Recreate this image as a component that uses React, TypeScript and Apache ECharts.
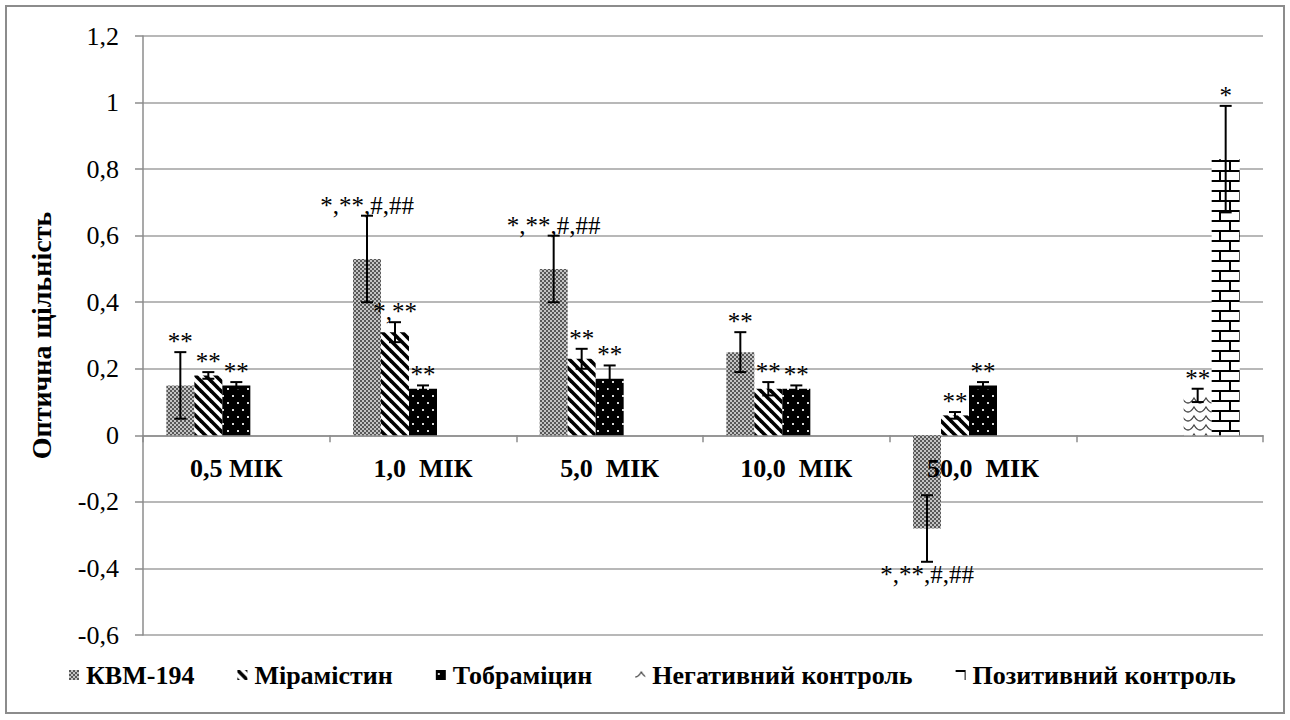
import React, { useEffect, useRef } from "react";
import * as echarts from "echarts";

const categories = ["0,5 МІК", "1,0  МІК", "5,0  МІК", "10,0  МІК", "50,0  МІК", ""];
const seriesNames = ["КВМ-194", "Мірамістин", "Тобраміцин", "Негативний контроль", "Позитивний контроль"];

const kvm = [0.15, 0.53, 0.5, 0.25, -0.28, null];
const kvmErr = [0.1, 0.13, 0.1, 0.06, 0.1, null];
const kvmMarks = ["**", "*,**,#,##", "*,**,#,##", "**", "*,**,#,##", ""];

const miram = [0.18, 0.31, 0.23, 0.14, 0.06, null];
const miramErr = [0.01, 0.03, 0.03, 0.02, 0.01, null];
const miramMarks = ["**", "*,**", "**", "**", "**", ""];

const tobra = [0.15, 0.14, 0.17, 0.14, 0.15, null];
const tobraErr = [0.01, 0.01, 0.04, 0.01, 0.01, null];
const tobraMarks = ["**", "**", "**", "**", "**", ""];

const negCtrl = [null, null, null, null, null, 0.12];
const negCtrlErr = [null, null, null, null, null, 0.02];
const negCtrlMarks = ["", "", "", "", "", "**"];

const posCtrl = [null, null, null, null, null, 0.83];
const posCtrlErr = [null, null, null, null, null, 0.16];
const posCtrlMarks = ["", "", "", "", "", "*"];

const allValues = [kvm, miram, tobra, negCtrl, posCtrl];
const allErrs = [kvmErr, miramErr, tobraErr, negCtrlErr, posCtrlErr];
const allMarks = [kvmMarks, miramMarks, tobraMarks, negCtrlMarks, posCtrlMarks];

const FONT = "Liberation Serif";

function makeTile(w: number, h: number, draw: (ctx: CanvasRenderingContext2D) => void) {
  const c = document.createElement("canvas");
  c.width = w;
  c.height = h;
  const ctx = c.getContext("2d") as CanvasRenderingContext2D;
  draw(ctx);
  return { image: c.toDataURL(), repeat: "repeat", imageWidth: w, imageHeight: h } as any;
}

function makePatterns() {
  const gray = makeTile(4, 4, (ctx) => {
    ctx.fillStyle = "#c4c4c4";
    ctx.fillRect(0, 0, 4, 4);
    ctx.fillStyle = "#585858";
    ctx.fillRect(0, 0, 2, 2);
    ctx.fillRect(2, 2, 2, 2);
  });
  const stripes = makeTile(10, 10, (ctx) => {
    ctx.fillStyle = "#ffffff";
    ctx.fillRect(0, 0, 10, 10);
    ctx.strokeStyle = "#000000";
    ctx.lineWidth = 3.6;
    for (let k = -2; k <= 2; k++) {
      ctx.beginPath();
      ctx.moveTo(k * 10 - 2, -2);
      ctx.lineTo(k * 10 + 12, 12);
      ctx.stroke();
    }
  });
  const dots = makeTile(10, 14, (ctx) => {
    ctx.fillStyle = "#000000";
    ctx.fillRect(0, 0, 10, 14);
    ctx.fillStyle = "#d8d8d8";
    ctx.fillRect(2, 3, 2, 2);
    ctx.fillRect(7, 10, 2, 2);
  });
  const waves = makeTile(12, 9, (ctx) => {
    ctx.fillStyle = "#ffffff";
    ctx.fillRect(0, 0, 12, 9);
    ctx.strokeStyle = "#444444";
    ctx.lineWidth = 1.3;
    ctx.beginPath();
    ctx.moveTo(0, 7);
    ctx.quadraticCurveTo(3, 7, 6, 2);
    ctx.quadraticCurveTo(9, 7, 12, 7);
    ctx.stroke();
  });
  const bricks = makeTile(20, 20, (ctx) => {
    ctx.fillStyle = "#ffffff";
    ctx.fillRect(0, 0, 20, 20);
    ctx.fillStyle = "#000000";
    ctx.fillRect(0, 0, 20, 2);
    ctx.fillRect(0, 10, 20, 2);
    ctx.fillRect(9, 0, 2, 10);
    ctx.fillRect(19, 10, 2, 10);
    ctx.fillRect(-1, 10, 2, 10);
  });
  return [gray, stripes, dots, waves, bricks];
}

const CAT_GAP = 0.25;

export default function App() {
  const ref = useRef<HTMLDivElement>(null);
  useEffect(() => {
    if (!ref.current) return;
    const chart = echarts.init(ref.current, null, { renderer: "svg" });
    const patterns = makePatterns();
    const nSeries = seriesNames.length;

    const errData: any[] = [];
    const errLabels: string[] = [];
    allValues.forEach((vals, s) => {
      vals.forEach((v, c) => {
        if (v == null) return;
        const e = allErrs[s][c] || 0;
        errData.push({ value: [c, s, v - e, v + e, v] });
        errLabels.push(allMarks[s][c]);
      });
    });

    const barSeries = seriesNames.map((name, s) => ({
      name,
      type: "bar",
      data: allValues[s],
      barGap: "0%",
      barCategoryGap: CAT_GAP * 100 + "%",
      itemStyle: { color: patterns[s] },
      z: 2,
    }));

    const option: any = {
      animation: false,
      backgroundColor: "#ffffff",
      textStyle: { fontFamily: FONT },
      grid: { left: 143, right: 27, top: 36, bottom: 85, containLabel: false },
      xAxis: {
        type: "category",
        data: categories,
        axisLine: { onZero: true, lineStyle: { color: "#8c8c8c", width: 1.5 } },
        axisTick: { show: true, length: 7, interval: 0, lineStyle: { color: "#8c8c8c", width: 1.5 } },
        axisLabel: { show: false },
        splitLine: { show: false },
      },
      yAxis: {
        type: "value",
        min: -0.6,
        max: 1.2,
        interval: 0.2,
        name: "Оптична щільність",
        nameLocation: "middle",
        nameGap: 88,
        nameTextStyle: { color: "#000", fontFamily: FONT, fontWeight: "bold", fontSize: 28 },
        axisLine: { show: true, lineStyle: { color: "#8c8c8c", width: 1.5 } },
        axisTick: { show: true, length: 8, lineStyle: { color: "#8c8c8c", width: 1.5 } },
        axisLabel: {
          margin: 24,
          color: "#000",
          fontFamily: FONT,
          fontSize: 26,
          formatter: (v: number) => {
            const r = Math.round(v * 10) / 10;
            return String(r).replace(".", ",");
          },
        },
        splitLine: { show: true, lineStyle: { color: "#a0a0a0", width: 1.5 } },
      },
      legend: {
        data: seriesNames,
        top: 657,
        left: 64,
        icon: "rect",
        itemWidth: 10,
        itemHeight: 10,
        itemGap: 43,
        textStyle: { color: "#000", fontFamily: FONT, fontWeight: "bold", fontSize: 26, padding: [0, 0, 0, 2] },
      },
      series: [
        ...barSeries,
        {
          type: "custom",
          name: "catLabels",
          data: categories.map((_, i) => [i, 0]),
          z: 6,
          clip: false,
          silent: true,
          renderItem: (params: any, api: any) => {
            const i = api.value(0);
            const p = api.coord([i, 0]);
            return {
              type: "text",
              x: p[0],
              y: p[1] + 33,
              style: {
                text: categories[params.dataIndex],
                fill: "#000",
                fontFamily: FONT,
                fontWeight: "bold",
                fontSize: 26,
                align: "center",
                verticalAlign: "middle",
              },
            };
          },
        },
        {
          type: "custom",
          name: "errors",
          data: errData,
          z: 5,
          clip: false,
          silent: true,
          renderItem: (params: any, api: any) => {
            const c = api.value(0);
            const s = api.value(1);
            const lo = api.value(2);
            const hi = api.value(3);
            const mean = api.value(4);
            const bandW = api.size([1, 0])[0];
            const barW = (bandW * (1 - CAT_GAP)) / nSeries;
            const cx = api.coord([c, 0])[0] - (bandW * (1 - CAT_GAP)) / 2 + barW * (s + 0.5);
            const yLo = api.coord([c, lo])[1];
            const yHi = api.coord([c, hi])[1];
            const cap = 6;
            const st = { stroke: "#000", lineWidth: 2 };
            const label = errLabels[params.dataIndex] || "";
            const neg = mean < 0;
            return {
              type: "group",
              children: [
                { type: "line", shape: { x1: cx, y1: yLo, x2: cx, y2: yHi }, style: st },
                { type: "line", shape: { x1: cx - cap, y1: yLo, x2: cx + cap, y2: yLo }, style: st },
                { type: "line", shape: { x1: cx - cap, y1: yHi, x2: cx + cap, y2: yHi }, style: st },
                {
                  type: "text",
                  x: cx,
                  y: neg ? yLo : yHi + 2,
                  style: {
                    text: label,
                    fill: "#000",
                    fontFamily: FONT,
                    fontSize: 25,
                    align: "center",
                    verticalAlign: neg ? "top" : "bottom",
                  },
                },
              ],
            };
          },
        },
      ],
      graphic: [
        {
          type: "rect",
          shape: { x: 6, y: 6, width: 1278, height: 707 },
          style: { fill: "none", stroke: "#8c8c8c", lineWidth: 2 },
          silent: true,
        },
      ],
    };
    chart.setOption(option);
    return () => chart.dispose();
  }, []);
  return <div ref={ref} style={{ width: 1290, height: 720, position: "absolute", left: 0, top: 0 }} />;
}
